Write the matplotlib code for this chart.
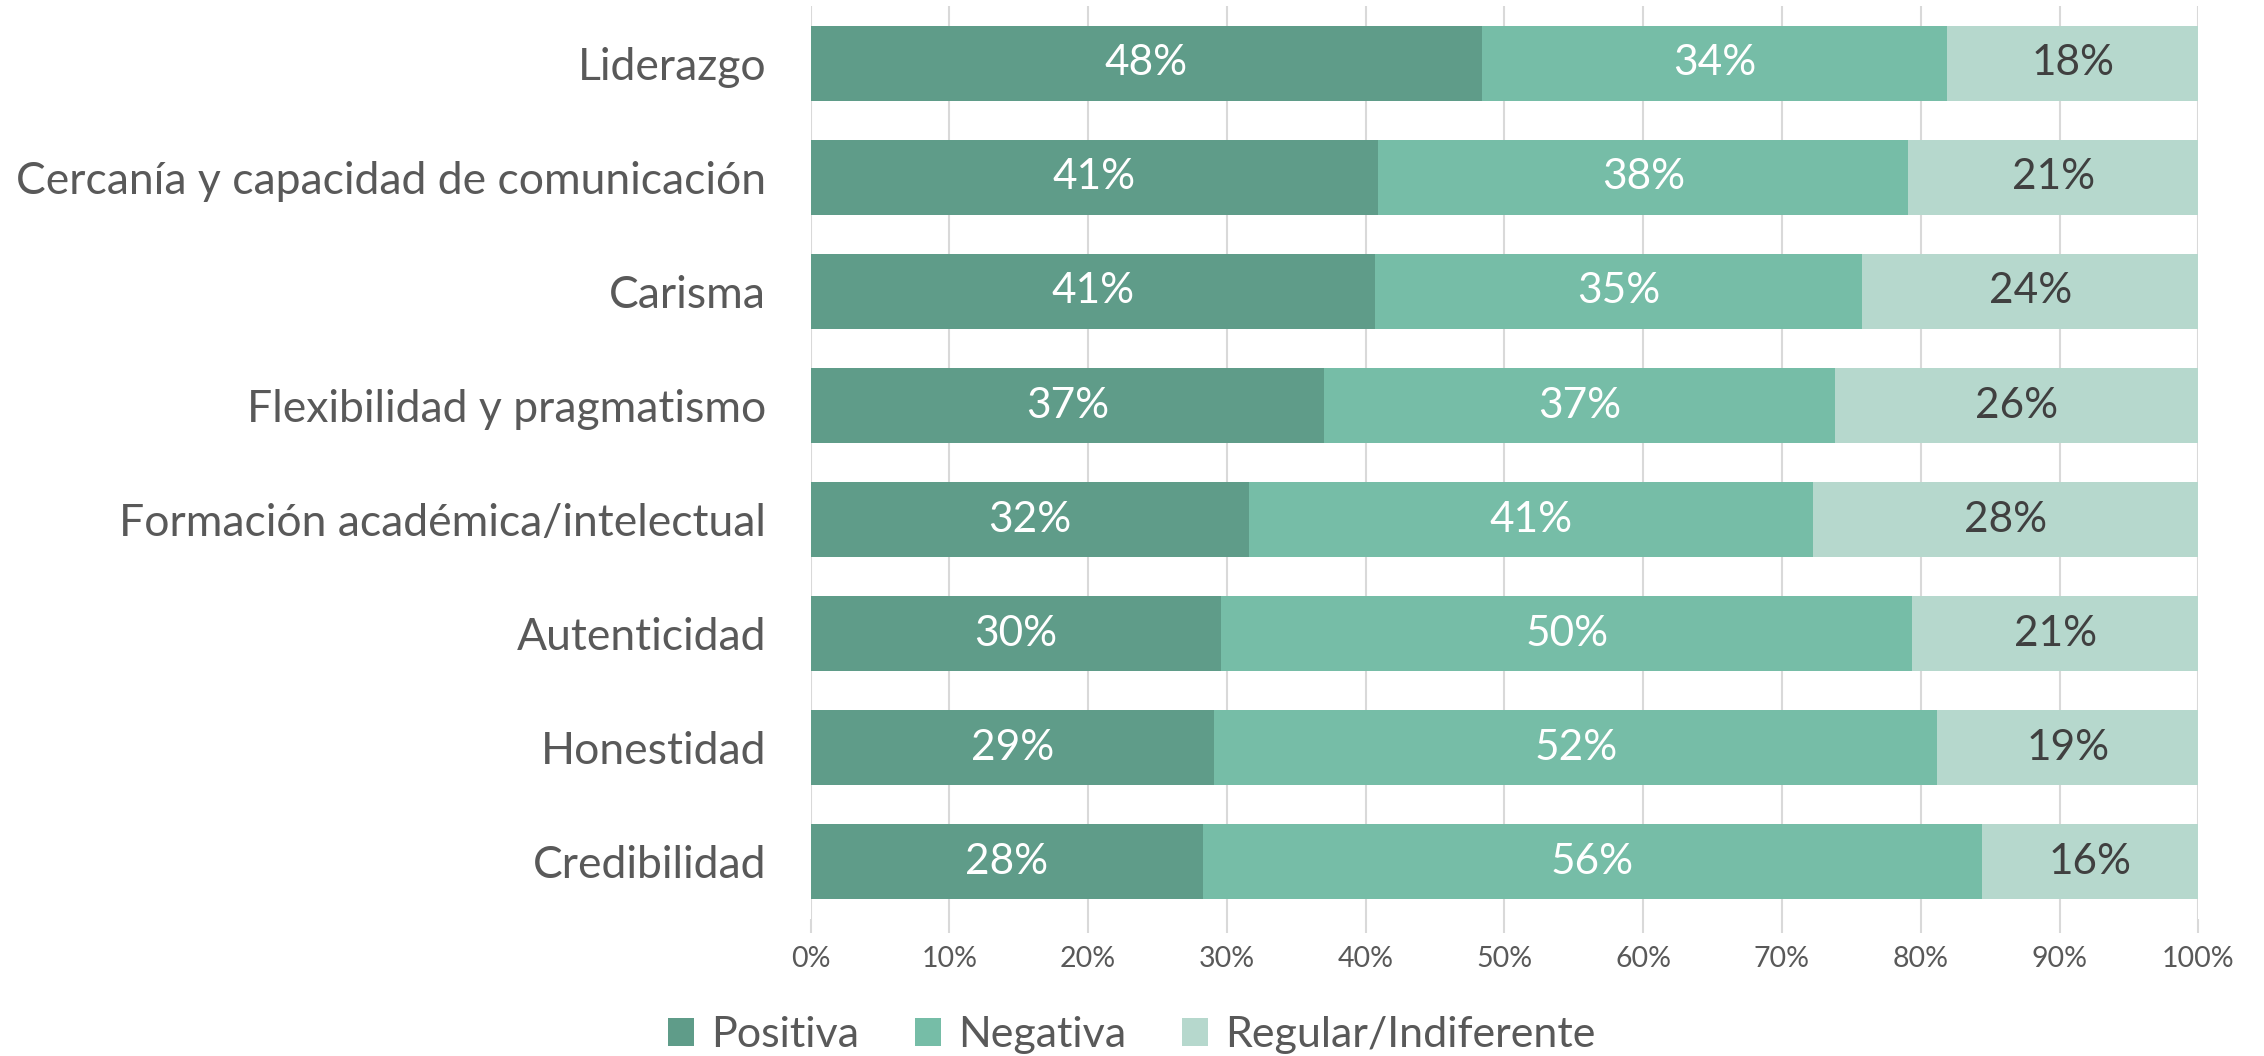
import numpy as np
import matplotlib
matplotlib.use("Agg")
import matplotlib.pyplot as plt
from matplotlib.ticker import FuncFormatter

# data (share of answers, %)
categorias = ["Liderazgo", "Cercanía y capacidad de comunicación", "Carisma",
              "Flexibilidad y pragmatismo", "Formación académica/intelectual",
              "Autenticidad", "Honestidad", "Credibilidad"]
positiva = [48.4, 40.9, 40.7, 37.0, 31.6, 29.6, 29.1, 28.3]
negativa = [33.5, 38.2, 35.1, 36.8, 40.6, 49.8, 52.1, 56.1]
regular = [18.1, 20.9, 24.2, 26.2, 27.8, 20.6, 18.8, 15.6]
series_names = ["Positiva", "Negativa", "Regular/Indiferente"]

colors = ["#5F9C89", "#76BDA7", "#B6D8CD"]
label_colors = ["white", "white", "#404040"]

plt.rcParams["font.family"] = ["Lato", "DejaVu Sans"]

fig = plt.figure(figsize=(22.64, 10.56), dpi=100)
ax = fig.add_axes([0.358, 0.130, 0.613, 0.864])

y = np.arange(len(categorias))
left = np.zeros(len(categorias))
for vals, name, col, tcol in zip([positiva, negativa, regular], series_names, colors, label_colors):
    vals = np.array(vals)
    bars = ax.barh(y, vals, left=left, height=0.66, color=col, label=name, zorder=3)
    for yi, l, v in zip(y, left, vals):
        ax.text(l + v / 2, yi, "{:.0f}%".format(v), ha="center", va="center",
                color=tcol, fontsize=30.5, zorder=4)
    left = left + vals

ax.set_xlim(0, 100)
ax.set_ylim(len(categorias) - 0.5, -0.5)
ax.set_xticks(np.arange(0, 101, 10))
ax.xaxis.set_major_formatter(FuncFormatter(lambda v, p: "{:.0f}%".format(v)))
ax.set_yticks(y)
ax.set_yticklabels(categorias)
ax.grid(axis="x", color="#D9D9D9", linewidth=1.5, zorder=0)
for s in ax.spines.values():
    s.set_visible(False)
ax.tick_params(axis="y", length=0, pad=32, labelsize=32, labelcolor="#595959")
ax.tick_params(axis="x", length=10, color="#D9D9D9", width=1.5, pad=10,
               labelsize=20.5, labelcolor="#595959")

fig.legend(loc="lower center", bbox_to_anchor=(0.5, -0.035), ncol=3, frameon=False,
           fontsize=31, handlelength=0.6, handleheight=0.6, handletextpad=0.4,
           columnspacing=1.3, labelcolor="#595959")

fig.savefig("out.png", dpi=100)
